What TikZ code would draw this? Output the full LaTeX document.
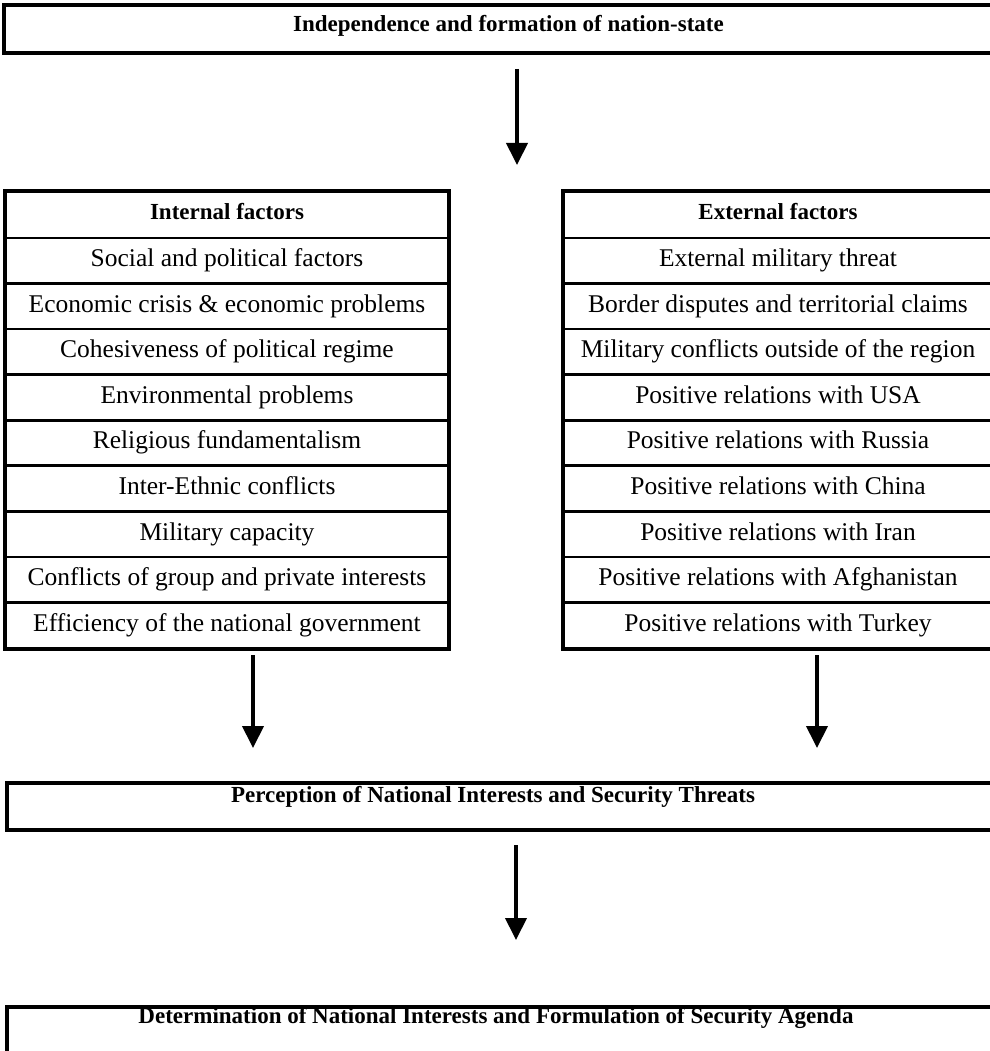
\documentclass[tikz,border=0pt]{standalone}
\usepackage{fontspec}
\setmainfont{Liberation Serif}
\usetikzlibrary{arrows.meta}
\begin{document}
\begin{tikzpicture}[x=1pt,y=-1pt,
  bigbox/.style={draw, line width=3.2pt, inner sep=0pt,
    font=\bfseries\fontsize{23}{26}\selectfont},
  cell/.style={draw, line width=2.6pt, inner sep=0pt, text height=17pt, text depth=5pt,
    minimum height=45.55pt, font=\fontsize{25.5}{28}\selectfont},
  headcell/.style={cell, minimum height=46pt, text height=16pt, text depth=8pt,
    font=\bfseries\fontsize{23}{26}\selectfont},
  frame/.style={line width=3.6pt},
  flow/.style={line width=4pt, -{Triangle[width=21pt,length=22pt]}}
]
\useasboundingbox (0,0) rectangle (989,1051);

% top box
\node[bigbox, minimum width=1012pt, minimum height=48pt, text height=16pt, text depth=11pt]
  (top) at (510,29) {\hspace*{-3pt}Independence and formation of nation-state};

% arrow 1
\coordinate (a1s) at (517,69);
\coordinate (a1e) at (517,165);
\draw[flow] (a1s) -- (a1e);

% internal factors table
\node[headcell, minimum width=442pt] (ih) at (227,215) {Internal factors};
\foreach \t [count=\k from 0] in {Social and political factors,
  Economic crisis \& economic problems,
  Cohesiveness of political regime,
  Environmental problems,
  Religious fundamentalism,
  Inter-Ethnic conflicts,
  Military capacity,
  Conflicts of group and private interests,
  Efficiency of the national government}
  \node[cell, minimum width=442pt] (i\k) at (227,{238+45.55*(\k+0.5)}) {\t};
\draw[frame] (ih.north west) rectangle (i8.south east);

% external factors table
\node[headcell, minimum width=428pt] (eh) at (778,215) {External factors};
\foreach \t [count=\k from 0] in {External military threat,
  Border disputes and territorial claims,
  Military conflicts outside of the region,
  Positive relations with USA,
  Positive relations with Russia,
  Positive relations with China,
  Positive relations with Iran,
  Positive relations with Afghanistan,
  Positive relations with Turkey}
  \node[cell, minimum width=428pt] (e\k) at (778,{238+45.55*(\k+0.5)}) {\t};
\draw[frame] (eh.north west) rectangle (e8.south east);

% arrows from the tables
\coordinate (a2s) at (253,655);
\coordinate (a2e) at (253,748);
\draw[flow] (a2s) -- (a2e);
\coordinate (a3s) at (817,655);
\coordinate (a3e) at (817,748);
\draw[flow] (a3s) -- (a3e);

% perception box
\node[bigbox, minimum width=1000pt, minimum height=47pt, text height=16pt, text depth=24pt]
  (perc) at (507,806.5) {\hspace*{-28pt}Perception of National Interests and Security Threats};

% arrow 4
\coordinate (a4s) at (516,845);
\coordinate (a4e) at (516,940);
\draw[flow] (a4s) -- (a4e);

% determination box
\node[bigbox, minimum width=1000pt, minimum height=60pt, text height=16pt, text depth=44pt]
  (det) at (507,1037) {\hspace*{-22pt}Determination of National Interests and Formulation of Security Agenda};
\end{tikzpicture}
\end{document}
